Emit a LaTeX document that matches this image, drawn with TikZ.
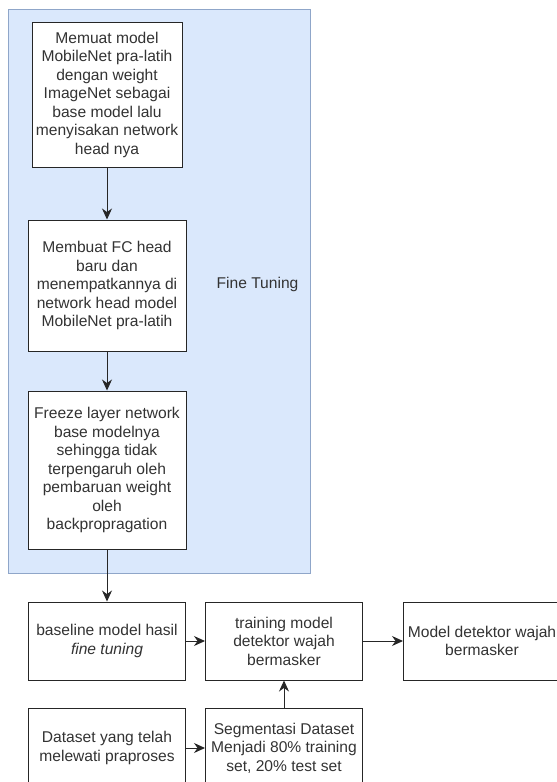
\documentclass[tikz,border=0pt]{standalone}
\usepackage{fontspec}
\setmainfont{Liberation Sans}
\usetikzlibrary{positioning, arrows.meta}
\definecolor{ftfill}{HTML}{DAE8FC}
\definecolor{ftline}{HTML}{8FA6C9}
\definecolor{txt}{HTML}{333333}

\begin{document}
\begin{tikzpicture}[
  x=1pt, y=-1pt,
  >={Stealth[length=11pt, width=10pt]},
  every node/.style={font=\fontsize{15.6}{18.5}\selectfont, text=txt},
  group/.style = {draw=ftline, fill=ftfill, line width=1pt, minimum width=302pt, minimum height=564pt, inner sep=0pt},
  box/.style   = {draw=black!85, fill=white, line width=1pt, align=center, inner sep=2pt, minimum width=157pt, minimum height=78pt},
  arr/.style   = {->, line width=1pt, black!85},
]
  \useasboundingbox (0,0) rectangle (557,782);
  % container
  \node[group] (ft) at (159,291) {};
  \node (ftl) at (257.5,284) {Fine Tuning};
  % fine tuning steps
  \node[box, minimum width=150pt, minimum height=145pt] (muat) at (107,94.5)
    {Memuat model\\MobileNet pra-latih\\dengan weight\\ImageNet sebagai\\base model lalu\\menyisakan network\\head nya};
  \node[box, minimum width=158pt, minimum height=131pt, below=52pt of muat] (fc)
    {Membuat FC head\\baru dan\\menempatkannya di\\network head model\\MobileNet pra-latih};
  \node[box, minimum width=158pt, minimum height=158pt, below=39pt of fc] (frz)
    {Freeze layer network\\base modelnya\\sehingga tidak\\terpengaruh oleh\\pembaruan weight\\oleh\\backpropragation};
  % training
  \node[box, below=52pt of frz] (base){baseline model hasil\\\textit{fine tuning}};
  \node[box, right=19pt of base] (train){training model\\detektor wajah\\bermasker};
  \node[box, right=40pt of train] (det){Model detektor wajah\\bermasker};
  \node[box, minimum height=80pt, below=27pt of base] (data){Dataset yang telah\\melewati praproses};
  \node[box, minimum height=80pt, right=19pt of data] (seg){Segmentasi Dataset\\Menjadi 80\% training\\set, 20\% test set};
  \foreach \a/\b in {muat/fc,fc/frz,frz/base,base/train,train/det,data/seg,seg/train}\draw[arr](\a)--(\b);
\end{tikzpicture}
\end{document}
